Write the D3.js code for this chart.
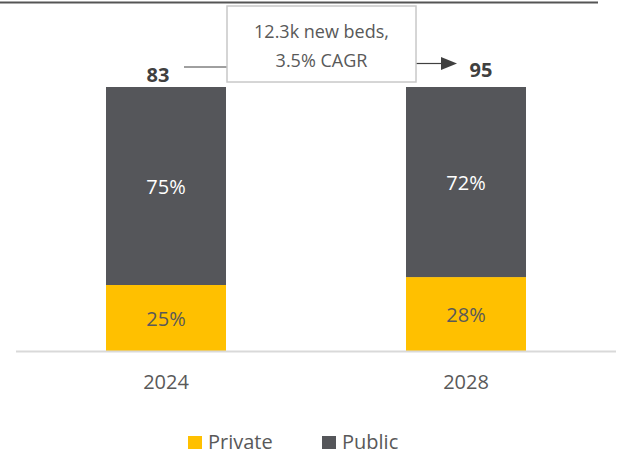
<!DOCTYPE html>
<html>
<head>
<meta charset="utf-8">
<script src="https://cdn.jsdelivr.net/npm/d3@7"></script>
<style>
  html, body { margin: 0; padding: 0; background: #fff; }
  svg { display: block; font-family: "Open Sans", "Noto Sans", sans-serif; }
</style>
</head>
<body>
<svg id="chart" width="618" height="456"></svg>
<script>
// Hospital bed capacity split by ownership (share of total, %)
const years = ["2024", "2028"];
const privateShare = [25, 28];
const publicShare = [75, 72];
const totalBeds = [83, 95]; // thousand beds
const seriesNames = ["Private", "Public"];
const calloutLines = ["12.3k new beds,", "3.5% CAGR"];

const colors = { Private: "#FFC000", Public: "#55565A" };
const textGray = "#595959";
const fontFamily = "'Open Sans', 'Noto Sans', sans-serif";

const svg = d3.select("#chart");

const x = d3.scaleBand().domain(years).range([16, 616]).paddingInner(0.6).paddingOuter(0.3);
const y = d3.scaleLinear().domain([0, 100]).range([351, 87]);

const rows = years.map((yr, i) => ({ year: yr, Private: privateShare[i], Public: publicShare[i], total: totalBeds[i] }));
const stacked = d3.stack().keys(seriesNames)(rows);

// top rule
svg.append("line").attr("x1", 0).attr("x2", 598).attr("y1", 2.5).attr("y2", 2.5)
  .attr("stroke", "#555", "").attr("stroke-width", 2);

// stacked bars
const layers = svg.append("g").selectAll("g").data(stacked).join("g")
  .attr("fill", d => colors[d.key]);
layers.selectAll("rect").data(d => d.map(v => ({ key: d.key, v }))).join("rect")
  .attr("x", d => x(d.v.data.year))
  .attr("width", x.bandwidth())
  .attr("y", d => y(d.v[1]))
  .attr("height", d => y(d.v[0]) - y(d.v[1]));

// segment labels
layers.selectAll("text").data(d => d.map(v => ({ key: d.key, v }))).join("text")
  .attr("x", d => x(d.v.data.year) + x.bandwidth() / 2)
  .attr("y", d => (y(d.v[0]) + y(d.v[1])) / 2 + 7.5)
  .attr("text-anchor", "middle")
  .attr("font-size", 20)
  .attr("fill", d => d.key === "Public" ? "#fff" : textGray)
  .text(d => d.v[1] - d.v[0] + "%");

// baseline and axis
svg.append("line").attr("x1", 16).attr("x2", 616).attr("y1", 351.5).attr("y2", 351.5)
  .attr("stroke", "#d9d9d9").attr("stroke-width", 2);
const xAxis = svg.append("g").attr("transform", "translate(0,352)")
  .call(d3.axisBottom(x).tickSize(0).tickPadding(23));
xAxis.select(".domain").remove();
xAxis.selectAll("text").attr("font-size", 20).attr("fill", textGray)
  .attr("font-family", fontFamily);

// totals above the bars
const cx0 = x(years[0]) + x.bandwidth() / 2;
const cx1 = x(years[1]) + x.bandwidth() / 2;
svg.append("text").attr("x", cx0 - 8).attr("y", 82).attr("text-anchor", "middle")
  .attr("font-size", 20).attr("font-weight", "bold").attr("fill", "#404040").text(totalBeds[0]);
svg.append("text").attr("x", cx1 + 15).attr("y", 77).attr("text-anchor", "middle")
  .attr("font-size", 20).attr("font-weight", "bold").attr("fill", "#404040").text(totalBeds[1]);

// callout box with connector and arrow
const box = { x: 227, y: 6, w: 189, h: 76 };
svg.append("line").attr("x1", 184).attr("x2", box.x).attr("y1", 67).attr("y2", 67)
  .attr("stroke", "#404040").attr("stroke-width", 1);
svg.append("line").attr("x1", box.x + box.w).attr("x2", 442).attr("y1", 63.5).attr("y2", 63.5)
  .attr("stroke", "#404040").attr("stroke-width", 1.2);
svg.append("path").attr("d", "M441,57 L457,63.5 L441,70 Z").attr("fill", "#404040");
svg.append("rect").attr("x", box.x).attr("y", box.y).attr("width", box.w).attr("height", box.h)
  .attr("fill", "#fff").attr("stroke", "#c8c8c8").attr("stroke-width", 1.5);
svg.append("g").selectAll("text").data(calloutLines).join("text")
  .attr("x", box.x + box.w / 2).attr("y", (d, i) => 38 + i * 28.5)
  .attr("text-anchor", "middle").attr("font-size", 18).attr("fill", textGray).text(d => d);

// legend
const legendX = [188, 322];
const legend = svg.append("g").selectAll("g").data(seriesNames).join("g")
  .attr("transform", (d, i) => `translate(${legendX[i]},436)`);
legend.append("rect").attr("width", 14).attr("height", 13).attr("fill", d => colors[d]);
legend.append("text").attr("x", 20).attr("y", 13).attr("font-size", 20).attr("fill", textGray).text(d => d);
</script>
</body>
</html>
